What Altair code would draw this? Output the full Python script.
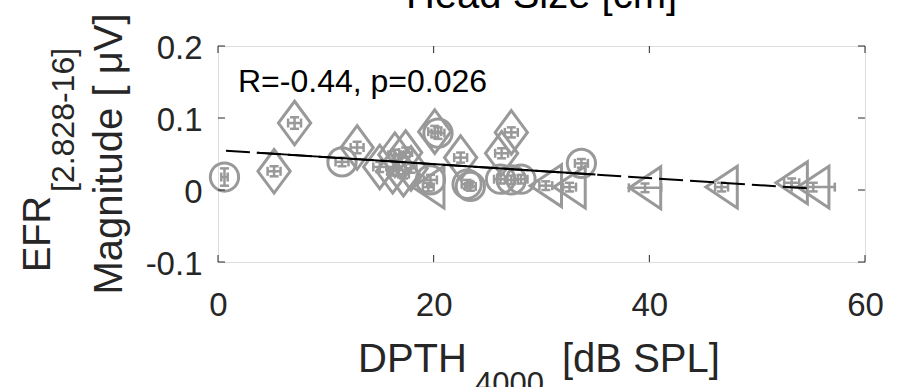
import altair as alt
import pandas as pd

# ---------------- data ----------------
dpth = [0.6, 5.2, 7.1, 11.5, 12.9, 15.0, 16.4, 17.4, 16.2, 17.2, 17.9, 20.1, 20.4,
        19.7, 19.5, 22.5, 23.1, 23.4, 26.3, 27.2, 26.2, 27.2, 28.1, 30.4, 32.6,
        33.7, 39.6, 46.7, 53.2, 55.2]
efr = [0.018, 0.026, 0.093, 0.039, 0.059, 0.032, 0.049, 0.052, 0.026, 0.022, 0.030,
       0.081, 0.079, 0.014, 0.004, 0.045, 0.008, 0.005, 0.051, 0.080, 0.015, 0.014,
       0.015, 0.006, 0.004, 0.037, 0.003, 0.004, 0.010, 0.004]
marker = ["o", "d", "d", "o", "d", "d", "d", "d", "d", "d", "d", "d", "o",
          "o", "<", "d", "o", "o", "d", "d", "o", "o", "o", "<", "<",
          "o", "<", "<", "<", "<"]
dpth_err = [0.3, 0.6, 0.6, 0.6, 0.6, 0.6, 0.6, 0.6, 0.5, 0.5, 0.5, 0.6, 0.6,
            0.6, 0.5, 0.6, 0.5, 0.5, 0.6, 0.6, 0.6, 0.6, 0.6, 0.6, 0.6,
            0.6, 1.5, 0.6, 0.7, 2.0]
efr_err = [0.012, 0.007, 0.008, 0.006, 0.008, 0.007, 0.007, 0.007, 0.006, 0.006, 0.006,
           0.008, 0.008, 0.007, 0.006, 0.007, 0.006, 0.006, 0.007, 0.007, 0.006, 0.006,
           0.006, 0.006, 0.006, 0.006, 0.006, 0.006, 0.006, 0.006]

fit_intercept = 0.0554
fit_slope = -0.00097
fit_x_dashed = [0.74, 55.2]
fit_x_solid = [3.6, 35.0]

title_text = "Head Size [cm]"
stat_text = "R=-0.44, p=0.026"
x_ticks = [0, 20, 40, 60]
y_ticks = [-0.1, 0, 0.1, 0.2]

# ---------------- styling ----------------
W, H = 647, 216
GRAY = "#999999"
INK = "#262626"
FONT = "Liberation Sans"

df = pd.DataFrame({"x": dpth, "y": efr, "marker": marker, "xe": dpth_err, "ye": efr_err})
df["x_lo"] = df["x"] - df["xe"]
df["x_hi"] = df["x"] + df["xe"]
df["y_lo"] = df["y"] - df["ye"]
df["y_hi"] = df["y"] + df["ye"]

xs = alt.Scale(domain=[0, 60], nice=False, zero=False)
ys = alt.Scale(domain=[-0.1, 0.2], nice=False, zero=False)

x_axis = alt.Axis(values=x_ticks, title=None, domain=False, ticks=False, tickSize=0, grid=False,
                  labelFont=FONT, labelFontSize=33, labelColor=INK, labelFlush=False,
                  labelBaseline="alphabetic", labelPadding=53)
y_axis = alt.Axis(values=y_ticks, title=None, domain=False, ticks=False, tickSize=0, grid=False,
                  labelFont=FONT, labelFontSize=33, labelColor=INK, labelPadding=16,
                  labelFlush=False, labelOffset=2,
                  labelExpr="datum.value == 0 ? '0' : (datum.value < 0 ? '-' + format(-datum.value, '.1f') : format(datum.value, '.1f'))")


def X(f):
    return alt.X(f, scale=xs, axis=x_axis)


def Y(f):
    return alt.Y(f, scale=ys, axis=y_axis)


base = alt.Chart(df)

# error bars
hbar = base.mark_rule(color=GRAY, strokeWidth=2.5).encode(x=X("x_lo:Q"), x2="x_hi:Q", y=Y("y:Q"))
vbar = base.mark_rule(color=GRAY, strokeWidth=2.5).encode(x=X("x:Q"), y=Y("y_lo:Q"), y2="y_hi:Q")


def cap(xf, yf, path):
    return base.mark_point(shape=path, size=81, filled=False, stroke=GRAY, strokeWidth=2.5,
                           opacity=1).encode(x=X(xf), y=Y(yf))


caps = [cap("x:Q", "y_lo:Q", "M-1,0L1,0"), cap("x:Q", "y_hi:Q", "M-1,0L1,0"),
        cap("x_lo:Q", "y:Q", "M0,-1L0,1"), cap("x_hi:Q", "y:Q", "M0,-1L0,1")]

# markers
shape_def = {
    "o": ("circle", 800),
    "d": ("M0,-1L0.74,0L0,1L-0.74,0Z", 1900),
    "<": ("M-0.75,0L0.75,-1L0.75,1Z", 1750),
}
marker_layers = []
for key, (shp, sz) in shape_def.items():
    marker_layers.append(
        base.transform_filter(alt.datum.marker == key)
        .mark_point(shape=shp, size=sz, filled=False, stroke=GRAY, strokeWidth=3, opacity=1)
        .encode(x=X("x:Q"), y=Y("y:Q"))
    )

# regression line
fit_d = pd.DataFrame({"x": fit_x_dashed})
fit_d["y"] = fit_intercept + fit_slope * fit_d["x"]
fit_s = pd.DataFrame({"x": fit_x_solid})
fit_s["y"] = fit_intercept + fit_slope * fit_s["x"]
line_dashed = alt.Chart(fit_d).mark_line(color="black", strokeWidth=2, strokeDash=[24, 7]).encode(
    x=X("x:Q"), y=Y("y:Q"))
line_solid = alt.Chart(fit_s).mark_line(color="black", strokeWidth=2).encode(
    x=X("x:Q"), y=Y("y:Q"))

# inside ticks (box style)
xt = pd.DataFrame({"x": x_ticks})
yt = pd.DataFrame({"y": y_ticks})
tick_layers = [
    alt.Chart(xt).mark_rule(color=INK, strokeWidth=1).encode(
        x=X("x:Q"), y=alt.value(H), y2=alt.value(H - 7)),
    alt.Chart(xt).mark_rule(color=INK, strokeWidth=1).encode(
        x=X("x:Q"), y=alt.value(0), y2=alt.value(7)),
    alt.Chart(yt).mark_rule(color=INK, strokeWidth=1).encode(
        y=Y("y:Q"), x=alt.value(0), x2=alt.value(7)),
    alt.Chart(yt).mark_rule(color=INK, strokeWidth=1).encode(
        y=Y("y:Q"), x=alt.value(W), x2=alt.value(W - 7)),
]


def label(text, x, y, size, align="left", angle=0, color=INK):
    kw = dict(align=align, baseline="alphabetic", font=FONT, fontSize=size, color=color)
    if angle:
        kw["angle"] = angle
    return alt.Chart(pd.DataFrame({"t": [text]})).mark_text(**kw).encode(
        x=alt.value(x), y=alt.value(y), text="t:N")


texts = [
    label(title_text, W / 2, -38, 40, align="center", color="black"),
    label(stat_text, 20, 46, 32, color="black"),
    # y title (two lines, rotated)
    label("EFR", -168, 226, 38, angle=270),
    label("[2.828-16]", -144, 146, 32, angle=270),
    label("Magnitude [ μV]", -96, 108, 40, align="center", angle=270),
    # x title
    label("DPTH", 140, 326, 40),
    label("4000", 257, 348, 31),
    label("[dB SPL]", 344, 326, 40),
]

chart = alt.layer(
    hbar, vbar, *caps, *marker_layers, line_dashed, line_solid, *tick_layers, *texts
).properties(
    width=W, height=H,
    autosize=alt.AutoSizeParams(type="none"),
    padding={"left": 218, "top": 46, "right": 32, "bottom": 125},
).configure_view(stroke=INK, strokeWidth=1.2).configure(background="white")

chart.save("out.html", embed_options={"renderer": "svg", "actions": False})
